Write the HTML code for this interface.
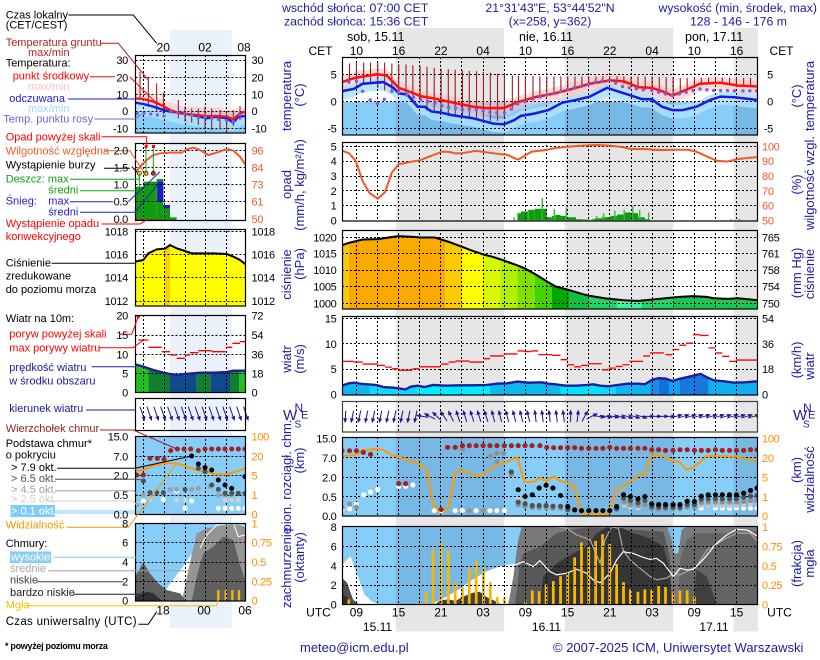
<!DOCTYPE html>
<html><head><meta charset="utf-8"><title>meteogram</title>
<style>
html,body{margin:0;padding:0;background:#fff;width:820px;height:660px;overflow:hidden}
svg{display:block}
text{font-family:"Liberation Sans",Arial,sans-serif}
</style></head><body>
<svg xmlns="http://www.w3.org/2000/svg" width="820" height="660" viewBox="0 0 820 660">
<defs>
<clipPath id="mp">
<rect x="342" y="57" width="416" height="78"/>
<rect x="342" y="142.5" width="416" height="78.5"/>
<rect x="342" y="230.5" width="416" height="78.5"/>
<rect x="342" y="316.5" width="416" height="78.5"/>
<rect x="342" y="401.5" width="416" height="30.5"/>
<rect x="342" y="437.5" width="416" height="78.5"/>
<rect x="342" y="526.5" width="416" height="78"/>
</clipPath>
<clipPath id="mc">
<rect x="135.5" y="55.5" width="110" height="77.5"/>
<rect x="135.5" y="143.5" width="110" height="77"/>
<rect x="135.5" y="229.5" width="110" height="76.5"/>
<rect x="135.5" y="315.5" width="110" height="77"/>
<rect x="135.5" y="398.5" width="110" height="32"/>
<rect x="135.5" y="436.5" width="110" height="78"/>
<rect x="135.5" y="523.5" width="110" height="77.5"/>
</clipPath>
<marker id="ah" markerUnits="userSpaceOnUse" markerWidth="16" markerHeight="14" refX="11" refY="7" orient="auto" viewBox="0 0 14 14"><path d="M0,1 L14,7 L0,13 z" fill="#1a1a9a"/></marker>
<clipPath id="pc"><polygon points="180,345 200,338 240,328 284,327 330,320 345,318 380,320 410,322 450,322 490,335 530,350 560,362 590,372 620,380 650,390 690,405 710,413 740,430 780,455 800,467 840,478 880,490 900,495 950,503 1000,508 1040,510 1080,506 1120,502 1160,498 1200,496 1240,498 1260,502 1300,504 1330,502 1360,505 1388,508 1388,536 180,536"/></clipPath>
<clipPath id="wc"><polygon points="180,242 200,235 215,233 240,237 280,240 300,246 330,248 365,253 380,245 400,242 420,246 445,240 480,242 520,241 560,241 600,240 630,236 660,235 690,230 720,233 760,232 780,236 800,238 830,242 860,242 890,240 910,238 930,242 955,244 980,240 1010,236 1040,236 1060,238 1080,225 1100,220 1120,221 1140,228 1160,222 1190,215 1210,210 1222,207 1240,217 1260,226 1290,229 1320,233 1350,232 1388,229 1388,271 180,271"/></clipPath>
<clipPath id="mwc"><polygon points="405,433 430,440 460,450 490,458 510,462 530,465 555,462 580,460 600,458 640,458 680,456 700,452 737,452 737,518 405,518"/></clipPath>
</defs>
<rect width="820" height="660" fill="#fff"/>

<!-- night columns main -->
<g fill="#e6e6e6">
<rect x="395.8" y="28" width="108.4" height="603.4"/>
<rect x="564.8" y="28" width="108.4" height="603.4"/>
<rect x="733.7" y="28" width="24.1" height="603.4"/>
</g>
<!-- mini night band -->
<rect x="170" y="30" width="61.7" height="598" fill="#eaf1fb"/>

<!-- ================= MAIN PANEL FILLS ================= -->
<g clip-path="url(#mp)">
<g transform="translate(280,-0.6) scale(0.3442,0.3375)">
<rect x="180" y="304" width="1208" height="102" fill="#86cdf8"/>
<g fill="#78b8e4"><rect x="336.4" y="304" width="315" height="102"/><rect x="827.4" y="304" width="315" height="102"/><rect x="1318.1" y="304" width="70" height="102"/></g>
<polygon fill="#ffc4c4" fill-opacity="0.6" points="180,227 220,214 280,204 310,207 345,244 380,257 410,269 440,274 500,287 560,300 600,304 650,304 690,287 740,272 800,260 850,247 900,232 960,222 1000,225 1040,242 1080,244 1110,254 1140,267 1180,250 1220,232 1280,229 1330,237 1388,240 1388,280 1330,277 1280,269 1220,272 1180,290 1140,307 1110,294 1080,284 1040,282 1000,265 960,262 900,272 850,287 800,300 740,312 690,327 650,344 600,344 560,340 500,327 440,314 410,309 380,297 345,284 310,247 280,244 220,254 180,267"/>
<polygon fill="#aee2ff" fill-opacity="0.85" points="180,257 215,250 240,235 300,230 330,247 345,263 370,267 400,303 420,303 440,317 470,321 500,328 560,337 620,353 650,355 680,343 700,330 740,323 780,313 820,291 860,283 900,273 950,247 980,257 1020,270 1050,280 1080,281 1110,303 1140,313 1170,313 1210,303 1250,283 1280,273 1320,275 1388,283 1388,323 1320,315 1280,313 1250,323 1210,343 1170,353 1140,353 1110,343 1080,321 1050,320 1020,310 980,297 950,287 900,313 860,323 820,331 780,353 740,363 700,370 680,383 650,395 620,393 560,377 500,368 470,361 440,357 420,343 400,343 370,307 345,303 330,287 300,270 240,275 215,290 180,297"/>
</g>
<g transform="translate(280,128.8) scale(0.3442,0.3375)">
<g fill="#109c10">
<rect x="690" y="250" width="10" height="21"/><rect x="700" y="245" width="20" height="26"/><rect x="720" y="240" width="20" height="31"/><rect x="740" y="237" width="35" height="34"/><rect x="775" y="262" width="15" height="9"/><rect x="790" y="258" width="10" height="13"/><rect x="800" y="255" width="15" height="16"/><rect x="815" y="258" width="15" height="13"/><rect x="830" y="262" width="30" height="9"/><rect x="860" y="268" width="20" height="3"/><rect x="880" y="269" width="20" height="2"/><rect x="905" y="268" width="10" height="3"/><rect x="915" y="265" width="20" height="6"/><rect x="935" y="262" width="25" height="9"/><rect x="960" y="258" width="20" height="13"/><rect x="980" y="254" width="20" height="17"/><rect x="1000" y="248" width="20" height="23"/><rect x="1020" y="250" width="20" height="21"/><rect x="1040" y="262" width="20" height="9"/><rect x="1060" y="268" width="15" height="3"/>
</g>
<path stroke="#30c030" stroke-width="4" fill="none" d="M680 271V262M722 271V242M762 271V205M797 271V237M832 271V233M920 271V258M940 271V250M973 271V242M1000 271V240M1025 271V228M1045 271V240M1071 271V248M1310 271V268M1335 271V266"/>
<g clip-path="url(#pc)">
<rect x="180" y="300" width="20" height="236" fill="#f8c800"/>
<rect x="200" y="300" width="280" height="236" fill="#f8aa00"/>
<rect x="480" y="300" width="50" height="236" fill="#f8cc00"/>
<rect x="530" y="300" width="60" height="236" fill="#ffff00"/>
<rect x="590" y="300" width="50" height="236" fill="#d8f800"/>
<rect x="640" y="300" width="50" height="236" fill="#b0f000"/>
<rect x="690" y="300" width="50" height="236" fill="#80e000"/>
<rect x="740" y="300" width="50" height="236" fill="#40d400"/>
<rect x="790" y="300" width="50" height="236" fill="#00a800"/>
<rect x="840" y="300" width="60" height="236" fill="#10c040"/>
<rect x="900" y="300" width="80" height="236" fill="#20d468"/>
<rect x="980" y="300" width="70" height="236" fill="#40f0a0"/>
<rect x="1050" y="300" width="90" height="236" fill="#20d468"/>
<rect x="1140" y="300" width="248" height="236" fill="#18c850"/>
</g>
</g>
<g transform="translate(280,304) scale(0.3442,0.3375)">
<g clip-path="url(#wc)">
<rect x="180" y="200" width="80" height="71" fill="#10b4f0"/>
<rect x="260" y="200" width="140" height="71" fill="#10d8ff"/>
<rect x="400" y="200" width="210" height="71" fill="#00ecff"/>
<rect x="610" y="200" width="205" height="71" fill="#10b8f0"/>
<rect x="815" y="200" width="100" height="71" fill="#00e4ff"/>
<rect x="915" y="200" width="60" height="71" fill="#10d8ff"/>
<rect x="975" y="200" width="100" height="71" fill="#10b4f0"/>
<rect x="1075" y="200" width="25" height="71" fill="#1a8ce8"/>
<rect x="1100" y="200" width="30" height="71" fill="#1070e0"/>
<rect x="1130" y="200" width="30" height="71" fill="#10a0f0"/>
<rect x="1160" y="200" width="85" height="71" fill="#1878e0"/>
<rect x="1245" y="200" width="143" height="71" fill="#10b0f0"/>
</g>
</g>
<g transform="translate(280,424.84) scale(0.3442,0.3364)">
<rect x="180" y="37" width="1208" height="237" fill="#86cdf8"/>
<g fill="#78b8e4"><rect x="336.4" y="37" width="315" height="237"/><rect x="827.4" y="37" width="315" height="237"/><rect x="1318.1" y="37" width="70" height="237"/></g>
</g>
<g transform="translate(280,521.7) scale(0.3442,0.3303)">
<rect x="180" y="14" width="1208" height="240" fill="#86cdf8"/>
<g fill="#78b8e4"><rect x="336.4" y="14" width="315" height="240"/><rect x="827.4" y="14" width="315" height="240"/><rect x="1318.1" y="14" width="70" height="240"/></g>
<polygon fill="#fff" points="180,252 180,130 205,105 245,220 265,240 290,252"/>
<polygon fill="#505050" points="180,252 180,170 195,185 212,235 230,252"/>
<polygon fill="#2e2e2e" points="180,252 180,215 200,235 210,252"/>
<polygon fill="#fff" points="430,252 470,235 520,205 560,175 600,150 640,135 680,128 700,128 700,252"/>
<polygon fill="#404040" points="450,252 465,238 490,235 510,240 530,228 560,215 580,212 600,228 625,240 645,252"/>
<polygon fill="#7a7a7a" points="663,252 678,166 692,55 702,16 1123,14 1138,55 1143,96 1157,96 1167,25 1182,14 1388,14 1388,252"/>
<polygon fill="#585858" points="683,252 697,126 707,96 755,76 804,35 852,23 901,17 1114,30 1133,106 1138,252"/>
<polygon fill="#646464" points="1157,252 1162,116 1182,55 1210,35 1288,35 1366,30 1388,30 1388,252"/>
<polygon fill="#363636" points="755,252 765,166 804,126 852,96 891,76 920,35 949,17 997,20 1026,35 1075,50 1114,76 1133,146 1138,252"/>
<polygon fill="#404040" points="1201,252 1210,146 1240,166 1269,252"/>
<polyline fill="none" stroke="#a8a8a8" stroke-width="3.5" points="804,15 833,20 862,40 901,55 930,126 944,55 964,15 983,20 997,86 1017,116 1075,166 1094,176 1123,171 1143,156 1162,161 1210,136 1240,86 1288,55 1327,35 1366,35 1388,60"/>
<polyline fill="none" stroke="#ffffff" stroke-width="3.5" points="683,131 707,121 736,136 755,118 784,151 804,161 833,156 862,144 891,156 910,176 930,185 959,156 978,116 997,91 1026,96 1055,108 1075,114 1094,111 1114,126 1143,166 1162,141 1182,146 1201,144 1230,114 1269,65 1298,40 1327,23 1356,25 1366,30 1388,45"/>
<path stroke="#f8b800" stroke-width="8" fill="none" d="M200 250V235M405 250V245M425 250V213M445 250V88M468 250V65M489 250V88M509 250V183M530 250V198M550 250V142M570 250V118M591 250V140M611 250V183M631 250V228M652 250V230M713 250V242M733 250V208M753 250V210M773 250V190M794 250V180M815 250V165M836 250V155M856 250V108M876 250V63M897 250V75M917 250V58M937 250V38M958 250V67M978 250V128M998 250V183M1018 250V205M1040 250V212M1060 250V205M1080 250V205M1100 250V195M1120 250V198M1142 250V215M1162 250V208M1183 250V208M1204 250V227"/>
</g>
</g>

<!-- ================= MINI PANEL FILLS ================= -->
<g clip-path="url(#mc)">
<g transform="scale(0.33333)">
<rect x="405" y="333" width="332" height="70" fill="#86cdf8"/>
<polygon fill="#ffc4c4" fill-opacity="0.6" points="405,262 450,280 490,300 540,318 600,322 660,322 700,330 737,318 737,345 700,365 660,360 600,355 540,350 490,328 450,315 405,310"/>
<polygon fill="#aee2ff" fill-opacity="0.85" points="405,298 460,310 510,325 560,332 620,340 680,345 700,355 737,338 737,370 700,392 640,385 560,375 510,365 460,352 405,342"/>
<g fill="#109c10"><rect x="405" y="560" width="25" height="102"/><rect x="430" y="545" width="40" height="117"/><rect x="470" y="537" width="20" height="125"/><rect x="490" y="615" width="20" height="47"/><rect x="510" y="652" width="20" height="10"/></g>
<g fill="#1a1ad0"><rect x="472" y="545" width="18" height="60"/><rect x="490" y="615" width="20" height="10"/></g>
</g>
<g transform="translate(0,220) scale(0.33333)">
<polygon fill="#ffff00" points="405,125 430,120 445,100 470,88 495,86 510,75 530,85 555,93 575,100 600,100 640,100 680,102 700,110 720,120 737,133 737,260 405,260"/>
<polygon fill="#f8d000" points="495,86 510,75 510,260 495,260"/>
<g clip-path="url(#mwc)">
<rect x="405" y="420" width="40" height="100" fill="#20c020"/>
<rect x="445" y="420" width="65" height="100" fill="#108030"/>
<rect x="510" y="420" width="80" height="100" fill="#104a8c"/>
<rect x="590" y="420" width="42" height="100" fill="#108030"/>
<rect x="632" y="420" width="58" height="100" fill="#104a8c"/>
<rect x="690" y="420" width="28" height="100" fill="#108030"/>
<rect x="718" y="420" width="19" height="100" fill="#20c020"/>
</g>
</g>
<g transform="translate(0,425) scale(0.33333)">
<rect x="405" y="35" width="332" height="235" fill="#86cdf8"/>
<rect x="405" y="295" width="332" height="235" fill="#86cdf8"/>
<polygon fill="#fff" points="470,530 500,490 530,450 560,410 590,365 610,340 640,320 737,300 737,530"/>
<polygon fill="#959595" points="545,530 560,460 575,390 590,325 620,310 660,302 700,298 737,305 737,530"/>
<polygon fill="#606060" points="405,530 405,455 430,412 450,445 475,475 500,495 540,505 560,530"/>
<polygon fill="#606060" points="575,530 590,455 610,385 640,365 670,335 700,345 720,420 737,470 737,530"/>
<polygon fill="#303030" points="405,530 405,515 440,500 460,505 490,530"/>
<polyline fill="none" stroke="#fff" stroke-width="3" points="600,370 620,330 650,300 700,295 715,335 737,330"/>
<path stroke="#f8b800" stroke-width="7" d="M655 528V495M677 528V495M697 528V495M717 528V495"/>
</g>
</g>

<!-- ================= GRIDS ================= -->
<g stroke="#000" stroke-width="1" stroke-dasharray="2,2" fill="none">
<path clip-path="url(#mp)" d="M356.5 57V605M377.5 57V605M398.5 57V605M419.5 57V605M440.5 57V605M461.5 57V605M483.5 57V605M504.5 57V605M525.5 57V605M546.5 57V605M567.5 57V605M588.5 57V605M609.5 57V605M631.5 57V605M652.5 57V605M673.5 57V605M694.5 57V605M715.5 57V605M736.5 57V605"/>
<path d="M342 74.5H758M342 101.5H758M342 128.5H758M342 146.5H758M342 161.5H758M342 176.5H758M342 190.5H758M342 205.5H758M342 237.5H758M342 253.5H758M342 270.5H758M342 286.5H758M342 303.5H758M342 318.5H758M342 343.5H758M342 369.5H758M342 457.5H758M342 477.5H758M342 496.5H758M342 546.5H758M342 566.5H758M342 585.5H758"/>
<path clip-path="url(#mc)" d="M143.5 55V601M164.5 55V601M185.5 55V601M205.5 55V601M226.5 55V601"/>
<path d="M135.5 60.5H245.5M135.5 77.5H245.5M135.5 94.5H245.5M135.5 111.5H245.5M135.5 128.5H245.5M135.5 150.5H245.5M135.5 167.5H245.5M135.5 184.5H245.5M135.5 201.5H245.5M135.5 231.5H245.5M135.5 254.5H245.5M135.5 277.5H245.5M135.5 301.5H245.5M135.5 335.5H245.5M135.5 354.5H245.5M135.5 373.5H245.5M135.5 456.5H245.5M135.5 475.5H245.5M135.5 495.5H245.5M135.5 542.5H245.5M135.5 562.5H245.5M135.5 581.5H245.5"/>
</g>

<!-- ================= MAIN LINES ================= -->
<g clip-path="url(#mp)" fill="none">
<g transform="translate(280,-0.6) scale(0.3442,0.3375)">
<path stroke="#a81818" stroke-width="3.2" d="M202 190V250M222 188V250M243 187V248M263 187V250M284 187V262M304 187V270M325 190V275M345 192V280M366 193V285M386 195V295M407 197V300M427 200V330M448 203V335M468 205V340M489 207V345M509 208V348M530 210V350M550 212V352M571 213V355M591 215V358M611 217V360M632 220V360M652 222V350M675 225V322M693 227V310M713 227V300M735 227V290M755 228V290M775 228V285M796 228V282M816 228V275M836 228V270M857 228V268M877 228V262M897 228V255M918 228V250M938 228V245M958 228V240M979 228V245M999 228V250M1020 228V255M1040 228V265M1061 228V268M1081 228V270M1102 230V275M1122 230V280M1142 230V285M1163 232V278M1183 232V270M1204 232V262M1224 232V255M1245 232V252M1265 232V250M1285 232V250M1306 232V255M1326 232V258M1347 232V258M1367 232V258"/>
<polyline stroke="#1a1ae0" stroke-width="7.5" points="180,272 215,265 240,250 300,245 330,262 345,278 370,282 400,318 420,318 440,332 470,336 500,343 560,352 620,368 650,370 680,358 700,345 740,338 780,328 820,306 860,298 900,288 950,262 980,272 1020,285 1050,295 1080,296 1110,318 1140,328 1170,328 1210,318 1250,298 1280,288 1320,290 1388,298"/>
<polyline stroke="#ff1010" stroke-width="7.5" points="180,245 220,232 280,222 310,225 345,262 380,275 410,287 440,292 500,305 560,318 600,322 650,322 690,305 740,290 800,278 850,265 900,250 960,240 1000,243 1040,260 1080,262 1110,272 1140,285 1180,268 1220,250 1280,247 1330,255 1388,258"/>
<path stroke="#7662e6" stroke-width="10" stroke-linecap="round" d="M200 245h.1M222 242h.1M240 272h.1M262 298h.1M283 308h.1M303 296h.1M325 272h.1M345 275h.1M368 283h.1M388 290h.1M409 297h.1M430 302h.1M450 308h.1M470 315h.1M490 320h.1M510 322h.1M530 325h.1M550 325h.1M570 327h.1M590 330h.1M610 334h.1M630 336h.1M652 336h.1M672 325h.1M690 310h.1M712 303h.1M735 295h.1M755 289h.1M775 283h.1M795 279h.1M815 273h.1M835 267h.1M855 262h.1M875 258h.1M895 252h.1M915 246h.1M935 242h.1M955 240h.1M975 248h.1M995 258h.1M1015 262h.1M1035 265h.1M1055 268h.1M1080 270h.1M1100 275h.1M1120 280h.1M1140 285h.1M1160 280h.1M1180 275h.1M1200 270h.1M1220 265h.1M1240 268h.1M1260 270h.1M1280 270h.1M1300 270h.1M1320 271h.1M1345 271h.1M1365 271h.1M1385 271h.1"/>
</g>
<g transform="translate(280,128.8) scale(0.3442,0.3375)">
<polyline stroke="#f05a28" stroke-width="6" points="180,65 200,72 220,95 240,155 260,190 284,207 305,188 325,130 345,105 370,100 407,93 440,80 470,68 490,68 510,73 530,72 570,65 600,70 640,75 660,77 690,91 700,87 730,68 770,63 800,57 850,52 890,49 920,48 958,50 1000,55 1020,60 1060,60 1100,63 1150,62 1185,62 1210,68 1240,82 1270,95 1300,97 1330,90 1360,86 1388,84"/>
<polyline stroke="#000" stroke-width="6" points="180,345 200,338 240,328 284,327 330,320 345,318 380,320 410,322 450,322 490,335 530,350 560,362 590,372 620,380 650,390 690,405 710,413 740,430 780,455 800,467 840,478 880,490 900,495 950,503 1000,508 1040,510 1080,506 1120,502 1160,498 1200,496 1240,498 1260,502 1300,504 1330,502 1360,505 1388,508"/>
</g>
<g transform="translate(280,304) scale(0.3442,0.3375)">
<polyline stroke="#1c1c9c" stroke-width="7" points="180,242 200,235 215,233 240,237 280,240 300,246 330,248 365,253 380,245 400,242 420,246 445,240 480,242 520,241 560,241 600,240 630,236 660,235 690,230 720,233 760,232 780,236 800,238 830,242 860,242 890,240 910,238 930,242 955,244 980,240 1010,236 1040,236 1060,238 1080,225 1100,220 1120,221 1140,228 1160,222 1190,215 1210,210 1222,207 1240,217 1260,226 1290,229 1320,233 1350,232 1388,229"/>
<path stroke="#ff0000" stroke-width="4" d="M180 170H215M215 172H240M240 178H285M285 182H305M305 187H325M325 192H345M345 196H385M385 192H405M405 186H465M468 178H490M490 172H510M510 169H550M550 172H590M590 162H610M610 154H650M650 148H690M690 139H710M710 141H730M730 139H750M750 150H790M790 152H815M815 165H835M835 180H855M855 186H875M875 182H895M895 177H935M935 195H955M955 190H975M975 185H995M995 180H1015M1015 170H1055M1055 154H1075M1075 145H1115M1120 150H1140M1140 135H1160M1160 122H1180M1180 116H1200M1200 91H1220M1220 93H1245M1245 130H1265M1265 145H1285M1285 155H1305M1305 170H1325M1325 166H1388"/>
<g stroke="#1a1a9a" stroke-width="3" marker-end="url(#ah)">
<path d="M191 316l-2 34"/><path d="M214 316l-7 34"/><path d="M234.5 316l-7 34"/><path d="M255 316l-7 34"/><path d="M275.3 316l-7 34"/><path d="M295.8 316l-7 34"/><path d="M316.2 316l-7 34"/><path d="M336.7 316l-7 34"/><path d="M357.1 316l-7 34"/><path d="M377.6 316l-7 34"/><path d="M398 316l-7 34"/>
<path d="M432 336l-34 -6"/><path d="M450.4 341l-30 -16"/><path d="M467.9 345l-24 -24"/><path d="M485.3 347l-18 -28"/><path d="M503.8 348l-14 -30"/>
<path d="M522.2 349l-10 -32"/><path d="M542.7 349l-10 -32"/><path d="M563.1 349l-10 -32"/><path d="M583.6 349l-10 -32"/><path d="M604 349l-10 -32"/>
<path d="M623.5 349.5l-8 -33"/><path d="M643.9 349.5l-8 -33"/><path d="M664.4 349.5l-8 -33"/><path d="M684.8 349.5l-8 -33"/><path d="M705.3 349.5l-8 -33"/><path d="M725.7 349.5l-8 -33"/>
<path d="M744.2 350l-4 -34"/><path d="M764.6 350l-4 -34"/><path d="M785.1 350l-4 -34"/><path d="M805.5 350l-4 -34"/><path d="M826 350l-4 -34"/>
<path d="M844.4 350l0 -34"/><path d="M862.9 350l4 -34"/><path d="M877.3 348l16 -30"/><path d="M890.8 341l30 -16"/>
<path d="M909.2 330l34 6"/><path d="M929.7 330l34 6"/><path d="M950.1 330l34 6"/>
<path d="M971.1 328l33 10"/><path d="M991.5 328l33 10"/><path d="M1012 328l33 10"/><path d="M1032.4 328l33 10"/>
<path d="M1051.9 333l35 0"/><path d="M1072.3 333l35 0"/><path d="M1092.8 333l35 0"/><path d="M1113.2 333l35 0"/>
<path d="M1135.2 338l32 -10"/><path d="M1155.6 338l32 -10"/><path d="M1176.1 338l32 -10"/><path d="M1196.5 338l32 -10"/><path d="M1217 338l32 -10"/><path d="M1237.4 338l32 -10"/><path d="M1257.9 338l32 -10"/><path d="M1278.3 338l32 -10"/><path d="M1298.8 338l32 -10"/><path d="M1319.2 338l32 -10"/><path d="M1339.7 338l32 -10"/><path d="M1360.1 338l32 -10"/>
</g>
</g>
<g transform="translate(280,424.84) scale(0.3442,0.3364)">
<polyline stroke="#ff9900" stroke-width="6" points="180,92 200,91 222,88 240,75 285,72 300,75 325,90 345,96 365,103 385,110 407,118 427,135 445,240 468,262 490,245 509,140 530,135 570,152 590,148 630,118 652,112 690,97 710,170 735,170 755,158 775,168 795,153 815,168 836,172 856,185 876,262 897,262 918,264 938,266 955,262 978,195 1000,180 1020,168 1040,150 1060,147 1080,88 1100,92 1120,95 1142,108 1160,110 1180,132 1200,128 1240,93 1265,92 1326,95 1365,104 1388,104"/>
<g stroke-linecap="round" stroke-width="15">
<path stroke="#ffffff" d="M180 252h.1M202 250h.1M222 237h.1M243 208h.1M263 200h.1M284 192h.1M345 183h.1M365 183h.1M386 179h.1M448 255h.1M468 255h.1M509 255h.1M530 255h.1M570 255h.1M610 255h.1M630 255h.1M652 255h.1M1224 248h.1M1265 248h.1M1285 248h.1M1306 248h.1M1326 248h.1M1347 248h.1M1367 248h.1M1386 248h.1"/>
<path stroke="#c8c8c8" d="M692 222h.1M1000 240h.1M1018 246h.1M1040 248h.1M1224 240h.1M1244 240h.1M1265 240h.1M1285 240h.1M1306 240h.1M1326 240h.1M1347 238h.1M1367 236h.1M1386 236h.1"/>
<path stroke="#909090" d="M180 245h.1M202 235h.1M222 245h.1M530 72h.1M612 93h.1M630 85h.1M650 85h.1M630 110h.1M672 148h.1M692 238h.1M712 243h.1M733 246h.1M753 246h.1M773 246h.1M793 248h.1M815 248h.1M550 255h.1M590 255h.1M1000 230h.1M1018 238h.1M1040 240h.1M1060 238h.1M1080 250h.1M1100 250h.1M1120 250h.1M1142 250h.1M1162 250h.1M1183 245h.1M1204 245h.1M1224 232h.1M1244 230h.1M1265 230h.1M1285 230h.1M1306 230h.1M1326 230h.1M1347 228h.1M1367 225h.1M1386 225h.1"/>
<path stroke="#505050" d="M672 140h.1M692 230h.1M712 235h.1M733 240h.1M753 240h.1M773 240h.1M793 242h.1M815 242h.1M836 252h.1M978 250h.1M998 218h.1M1018 225h.1M1040 232h.1M1060 225h.1M1080 243h.1M1100 245h.1M1120 245h.1M1142 245h.1M1162 245h.1M1183 237h.1M1204 237h.1M1224 222h.1M1244 220h.1M1265 220h.1M1285 220h.1M1306 220h.1M1326 220h.1M1347 215h.1M1367 212h.1M1386 210h.1"/>
<path stroke="#000000" d="M692 193h.1M712 213h.1M733 208h.1M753 188h.1M773 180h.1M793 188h.1M815 210h.1M836 243h.1M856 253h.1M876 255h.1M897 255h.1M918 255h.1M938 255h.1M958 255h.1M978 243h.1M998 208h.1M1018 213h.1M1040 220h.1M1060 213h.1M1080 235h.1M1100 237h.1M1120 237h.1M1142 237h.1M1162 237h.1M1183 227h.1M1204 228h.1M1224 212h.1M1244 208h.1M1265 208h.1M1285 208h.1M1306 208h.1M1326 208h.1M1347 203h.1M1367 195h.1M1386 188h.1"/>
<path stroke="#a52020" d="M180 77h.1M202 77h.1M222 77h.1M242 82h.1M263 88h.1M345 175h.1M365 175h.1M468 252h.1M487 67h.1M509 67h.1M530 62h.1M550 62h.1M570 62h.1M590 62h.1M610 62h.1M630 62h.1M652 62h.1M672 62h.1M692 62h.1M712 62h.1M732 62h.1M755 62h.1M775 67h.1M795 68h.1M815 68h.1M836 68h.1M856 68h.1M876 70h.1M897 70h.1M918 70h.1M938 70h.1M958 67h.1M978 70h.1M998 70h.1M1018 70h.1M1040 70h.1M1060 70h.1M1080 74h.1M1100 74h.1M1120 76h.1M1142 76h.1M1162 74h.1M1183 74h.1M1204 76h.1M1224 76h.1M1244 76h.1M1265 74h.1M1285 76h.1M1306 76h.1M1326 76h.1M1347 76h.1M1367 74h.1M1386 74h.1"/>
</g>
</g>
</g>

<!-- ================= MINI LINES ================= -->
<g fill="none">
<g clip-path="url(#mc)">
<g transform="scale(0.33333)">
<path stroke="#a81818" stroke-width="3.2" d="M420 215V300M445 235V318M470 250V335M490 278V342M535 300V355M555 320V365M575 325V368M595 325V375M615 320V382M635 325V390M660 330V388M680 340V398M700 330V378M720 318V360"/>
<polyline stroke="#1a1ae0" stroke-width="7" points="405,308 430,312 460,320 490,330 510,335 540,338 560,342 590,348 620,355 650,350 680,355 700,368 715,350 737,348"/>
<polyline stroke="#ff1010" stroke-width="7" points="405,295 430,297 460,305 490,318 510,330 540,340 560,342 590,345 620,348 650,348 680,350 700,358 720,340 737,335"/>
<path stroke="#7662e6" stroke-width="10" stroke-linecap="round" d="M412 340h.1M432 340h.1M452 342h.1M472 345h.1M492 348h.1M512 335h.1M532 338h.1M555 340h.1M575 345h.1M595 353h.1M615 352h.1M635 355h.1M655 358h.1M680 362h.1M700 365h.1M720 345h.1"/>
<polyline stroke="#f05a28" stroke-width="6" points="405,520 420,500 440,480 460,465 480,460 510,458 545,458 560,448 580,443 600,450 625,465 650,458 680,447 700,452 720,470 737,495"/>
<path stroke="#10a010" stroke-width="3" d="M418 515V560M438 440V515M460 440V515"/>
<path stroke="#ff0000" stroke-width="4" stroke-dasharray="8,6" d="M408 659H492"/>
<rect x="434" y="435" width="9" height="9" fill="#ff0000"/><rect x="456" y="435" width="9" height="9" fill="#ff0000"/>
<circle cx="418" cy="520" r="6" fill="#ffe000" stroke="#000" stroke-width="2"/>
<circle cx="438" cy="520" r="6" fill="#f8a000" stroke="#000" stroke-width="2"/>
<circle cx="460" cy="520" r="6" fill="#e02020" stroke="#000" stroke-width="2"/>
</g>
<g transform="translate(0,220) scale(0.33333)">
<polyline stroke="#000" stroke-width="6" points="405,125 430,120 445,100 470,88 495,86 510,75 530,85 555,93 575,100 600,100 640,100 680,102 700,110 720,120 737,133"/>
<polyline stroke="#1c1c9c" stroke-width="7" points="405,433 430,440 460,450 490,458 510,462 530,465 555,462 580,460 600,458 640,458 680,456 700,452 737,452"/>
<path stroke="#ff0000" stroke-width="4" d="M415 360H445M445 382H485M485 395H510M510 405H530M530 415H555M555 405H570M570 398H595M595 392H635M635 395H677M677 382H697M697 370H720M720 365H737"/>
<circle cx="415" cy="290" r="5" fill="#ff0000"/>
</g>
<g transform="translate(0,425) scale(0.33333)">
<polyline stroke="#ff9900" stroke-width="6" points="405,137 430,135 460,122 490,115 530,115 560,125 590,135 620,140 650,148 680,148 700,142 737,130"/>
<g stroke-linecap="round" stroke-width="15">
<path stroke="#fff" d="M430 228h.1M490 223h.1M530 198h.1M555 250h.1M575 228h.1M655 250h.1M675 250h.1M695 250h.1M715 250h.1M735 250h.1"/>
<path stroke="#d0d0d0" d="M410 235h.1M450 223h.1M530 225h.1M555 225h.1M675 225h.1M695 225h.1M715 225h.1"/>
<path stroke="#a0a0a0" d="M410 240h.1M430 210h.1M510 193h.1M530 193h.1M575 193h.1M595 190h.1M630 185h.1M655 210h.1M675 210h.1M695 210h.1"/>
<path stroke="#505050" d="M430 168h.1M450 203h.1M470 203h.1M490 203h.1M555 193h.1M595 130h.1M615 140h.1M635 180h.1M655 193h.1M675 205h.1M695 205h.1M715 205h.1M735 205h.1"/>
<path stroke="#000" d="M575 93h.1M595 117h.1M615 128h.1M635 135h.1M655 165h.1M675 180h.1M695 190h.1M735 155h.1"/>
<path stroke="#a52020" d="M410 150h.1M430 150h.1M450 100h.1M472 100h.1M492 103h.1M512 77h.1M532 72h.1M552 72h.1M572 72h.1M595 77h.1M615 72h.1M635 72h.1M655 72h.1M675 72h.1M695 72h.1M715 72h.1M735 72h.1"/>
</g>
</g>
</g>
<g transform="translate(0,220) scale(0.33333)" stroke="#1a1a9a" stroke-width="3" marker-end="url(#ah)">
<path d="M420 560l14 40"/><path d="M440.7 560l14 40"/><path d="M461.4 560l14 40"/><path d="M482.1 560l14 40"/><path d="M502.8 560l14 40"/><path d="M523.5 560l14 40"/><path d="M544.2 560l14 40"/><path d="M564.9 560l14 40"/><path d="M585.6 560l14 40"/><path d="M606.3 560l14 40"/><path d="M627 560l14 40"/><path d="M647.7 560l14 40"/><path d="M668.4 560l14 40"/><path d="M689.1 560l14 40"/><path d="M709.8 560l14 40"/><path d="M730.5 560l14 40"/>
</g>
</g>

<!-- ================= BORDERS ================= -->
<g fill="none" stroke="#000" stroke-width="1.2">
<rect x="342.5" y="57.5" width="415" height="77.5"/>
<rect x="342.5" y="142.5" width="415" height="78.5"/>
<rect x="342.5" y="230.5" width="415" height="78.5"/>
<rect x="342.5" y="316.5" width="415" height="78.5"/>
<rect x="342.5" y="401.5" width="415" height="30.5" stroke="#404040"/>
<rect x="342.5" y="437.5" width="415" height="78.5"/>
<rect x="342.5" y="526.5" width="415" height="78"/>
<rect x="135.5" y="55.5" width="110" height="77.5"/>
<rect x="135.5" y="143.5" width="110" height="77"/>
<rect x="135.5" y="229.5" width="110" height="76.5"/>
<rect x="135.5" y="315.5" width="110" height="77"/>
<rect x="135.5" y="398.5" width="110" height="32"/>
<rect x="135.5" y="436.5" width="110" height="78"/>
<rect x="135.5" y="523.5" width="110" height="77.5"/>
</g>

<!-- ================= LEGEND CONNECTORS ================= -->
<g fill="none" stroke-width="1">
<path stroke="#000" d="M68.3 15H133.3L156.7 43.3"/>
<path stroke="#b22222" d="M100 43.3H118.3L148.3 80"/>
<path stroke="#ff0000" d="M90 76.7H115M130 77L156.7 103.3"/>
<path stroke="#1a1ae0" d="M68.3 99H135"/>
<path stroke="#7060e0" d="M94.3 119H135L141.7 114"/>
<path stroke="#ff0000" d="M101.7 136.7H146.7V146"/>
<path stroke="#f05a28" d="M104 150.7H130L143.3 171.7"/>
<path stroke="#000" d="M104 168.3H130M131.7 166.7L136.7 171.7"/>
<path stroke="#10a010" d="M70 179.3H139.3V173.3M80 190.7H140L146.7 183.3"/>
<path stroke="#2020d0" d="M70 201.7H113.3M128.3 201.7L160 171.7M80 212.3H135L160 181.7"/>
<path stroke="#ff0000" d="M101.7 224H140L146.7 220"/>
<path stroke="#000" d="M51.7 263.3H135"/>
<path stroke="#ff0000" d="M120 334.3H131.7L138.3 316.7M98.3 347.7H133.3L143.3 340"/>
<path stroke="#1a1a9a" d="M91.7 366.7H135M86 410H135"/>
<path stroke="#a02020" d="M100 430H133.3L176.7 449"/>
<path stroke="#000" d="M57.3 468.3H135L191.7 456"/>
<path stroke="#505050" d="M55 479.3H135L143.3 480"/>
<path stroke="#a0a0a0" d="M55 490.7H133.3L138.3 495"/>
<path stroke="#d0d0d0" d="M46.7 501H133.3L136.7 505"/>
<path stroke="#80ccf8" d="M55 511H135M55 513H135"/>
<path stroke="#f89800" d="M66.7 527.3H128.3L176.7 463.3"/>
<path stroke="#80ccf8" d="M53.3 557.3H186.7"/>
<path stroke="#a0a0a0" d="M48.3 570.7H193.3"/>
<path stroke="#404040" d="M36.7 581.7H123.3"/>
<path stroke="#202020" d="M73.3 594.3H146.7"/>
<path stroke="#f8c000" d="M26.7 605.7H216.7L218.3 598.3"/>
<path stroke="#000" d="M138.3 624.3H148.3L156.7 611.7"/>
</g>

<!-- ================= TEXT ================= -->
<g font-size="12.3" fill="#1c1ca6">
<text x="282" y="12">wschód słońca: 07:00 CET</text>
<text x="284" y="25.5">zachód słońca: 15:36 CET</text>
<text x="550" y="12" text-anchor="middle">21°31'43"E, 53°44'52"N</text>
<text x="550" y="25.5" text-anchor="middle">(x=258,  y=362)</text>
<text x="817" y="12" text-anchor="end">wysokość (min, środek, max)</text>
<text x="738.5" y="25.5" text-anchor="middle">128 - 146 - 176 m</text>
</g>
<g font-size="12.5" fill="#000">
<text x="347" y="41">sob, 15.11</text>
<text x="519" y="41">nie, 16.11</text>
<text x="685" y="41">pon, 17.11</text>
</g>
<g font-size="12" fill="#000" text-anchor="middle">
<text x="320.5" y="55">CET</text><text x="781.5" y="55">CET</text>
<text x="356.4" y="55">10</text><text x="398.6" y="55">16</text><text x="440.9" y="55">22</text><text x="483.1" y="55">04</text><text x="525.4" y="55">10</text><text x="567.6" y="55">16</text><text x="609.8" y="55">22</text><text x="652.1" y="55">04</text><text x="694.3" y="55">10</text><text x="736.6" y="55">16</text>
<text x="318.5" y="616.5">UTC</text><text x="779.5" y="616.5">UTC</text>
<text x="356.4" y="616.5">09</text><text x="398.6" y="616.5">15</text><text x="440.9" y="616.5">21</text><text x="483.1" y="616.5">03</text><text x="525.4" y="616.5">09</text><text x="567.6" y="616.5">15</text><text x="609.8" y="616.5">21</text><text x="652.1" y="616.5">03</text><text x="694.3" y="616.5">09</text><text x="736.6" y="616.5">15</text>
<text x="377.5" y="631">15.11</text><text x="546.5" y="631">16.11</text><text x="714" y="631">17.11</text>
</g>
<g font-size="13" fill="#1c1ca6">
<text x="300" y="652">meteo@icm.edu.pl</text>
<text x="553" y="652">© 2007-2025 ICM, Uniwersytet Warszawski</text>
</g>

<g font-size="13" fill="#1c1caa" text-anchor="middle">
<text transform="translate(291,96) rotate(-90)">temperatura</text>
<text transform="translate(304,95) rotate(-90)">(°C)</text>
<text transform="translate(801,96) rotate(-90)">(°C)</text>
<text transform="translate(814,96) rotate(-90)">temperatura</text>
<text transform="translate(291,184.5) rotate(-90)">opad</text>
<text transform="translate(304,185) rotate(-90)">(mm/h, kg/m²/h)</text>
<text transform="translate(801,184.5) rotate(-90)">(%)</text>
<text transform="translate(814,183) rotate(-90)">wilgotność wzgl.</text>
<text transform="translate(291,274.5) rotate(-90)">ciśnienie</text>
<text transform="translate(304,264) rotate(-90)">(hPa)</text>
<text transform="translate(801,273) rotate(-90)">(mm Hg)</text>
<text transform="translate(814,274) rotate(-90)">ciśnienie</text>
<text transform="translate(291,359) rotate(-90)">wiatr</text>
<text transform="translate(304,359) rotate(-90)">(m/s)</text>
<text transform="translate(801,360) rotate(-90)">(km/h)</text>
<text transform="translate(814,366) rotate(-90)">wiatr</text>
<text transform="translate(291,475.5) rotate(-90)">pion. rozciągł. chm.</text>
<text transform="translate(304,460.5) rotate(-90)">(km)</text>
<text transform="translate(801,470) rotate(-90)">(km)</text>
<text transform="translate(814,479.5) rotate(-90)">widzialność</text>
<text transform="translate(291,567.5) rotate(-90)">zachmurzenie</text>
<text transform="translate(304,557.5) rotate(-90)">(oktanty)</text>
<text transform="translate(801,563.5) rotate(-90)">(frakcja)</text>
<text transform="translate(814,563.5) rotate(-90)">mgła</text>
</g>
<g fill="#1c1caa">
<text x="283" y="420" font-size="15">W</text><text x="294.5" y="412" font-size="12">N</text><text x="301" y="418.5" font-size="11">E</text><text x="294.5" y="427.5" font-size="10">S</text>
<text x="793" y="420" font-size="15">W</text><text x="803" y="412" font-size="12">N</text><text x="808" y="418.5" font-size="11">E</text><text x="803" y="427.5" font-size="10">S</text>
</g>

<g font-size="11" letter-spacing="-0.3" fill="#000" text-anchor="end">
<text x="336.5" y="78.5">5</text><text x="336.5" y="105.5">0</text><text x="336.5" y="132.5">-5</text>
<text x="336.5" y="150.4">5</text><text x="336.5" y="165.2">4</text><text x="336.5" y="180">3</text><text x="336.5" y="194.8">2</text><text x="336.5" y="209.6">1</text><text x="336.5" y="224.4">0</text>
<text x="336.5" y="241.5">1020</text><text x="336.5" y="257.7">1015</text><text x="336.5" y="273.9">1010</text><text x="336.5" y="290.4">1005</text><text x="336.5" y="307.3">1000</text>
<text x="336.5" y="322.5">15</text><text x="336.5" y="347.8">10</text><text x="336.5" y="373.1">5</text><text x="336.5" y="398.5">0</text>
<text x="336.5" y="442.3">15.0</text><text x="336.5" y="461.8">7.0</text><text x="336.5" y="481.7">2.0</text><text x="336.5" y="500.8">0.5</text><text x="336.5" y="520">0.0</text>
<text x="336.5" y="531">8</text><text x="336.5" y="550.5">6</text><text x="336.5" y="570">4</text><text x="336.5" y="589.1">2</text><text x="336.5" y="608.3">0</text>
<text x="773" y="78.5">5</text><text x="773" y="105.5">0</text><text x="773" y="132.5">-5</text>
</g>
<g font-size="11" letter-spacing="-0.3" fill="#000">
<g fill="#f05a28"><text x="762" y="150.4">100</text><text x="762" y="165.2">90</text><text x="762" y="180">80</text><text x="762" y="194.8">70</text><text x="762" y="209.6">60</text><text x="762" y="224.4">50</text></g>
<text x="762" y="241.5">765</text><text x="762" y="257.7">761</text><text x="762" y="273.9">758</text><text x="762" y="290.4">754</text><text x="762" y="307.3">750</text>
<text x="762" y="322.5">54</text><text x="762" y="347.8">36</text><text x="762" y="373.1">18</text><text x="762" y="398.5">0</text>
<g fill="#ff8c00"><text x="762" y="442.3">100</text><text x="762" y="461.8">20</text><text x="762" y="481.7">5</text><text x="762" y="500.8">1</text><text x="762" y="520">0</text>
<text x="762" y="531">1</text><text x="762" y="550.5">0.75</text><text x="762" y="570">0.5</text><text x="762" y="589.1">0.25</text><text x="762" y="608.3">0</text></g>
</g>

<g font-size="11" letter-spacing="-0.3" fill="#000" text-anchor="end">
<text x="128" y="64">30</text><text x="128" y="81.5">20</text><text x="128" y="98.5">10</text><text x="128" y="115">0</text><text x="128" y="132.5">-10</text>
<text x="128" y="154.5">2.0</text><text x="128" y="171.5">1.5</text><text x="128" y="188.5">1.0</text><text x="128" y="205.5">0.5</text><text x="128" y="223">0.0</text>
<text x="128" y="235.5">1018</text><text x="128" y="258.5">1016</text><text x="128" y="281.5">1014</text><text x="128" y="305">1012</text>
<text x="128" y="319.5">20</text><text x="128" y="339">15</text><text x="128" y="358.5">10</text><text x="128" y="377.5">5</text><text x="128" y="396.5">0</text>
<text x="128" y="440.5">15.0</text><text x="128" y="460.5">7.0</text><text x="128" y="479.5">2.0</text><text x="128" y="499">0.5</text><text x="128" y="518.5">0.0</text>
<text x="128" y="527.5">8</text><text x="128" y="546.5">6</text><text x="128" y="566">4</text><text x="128" y="585.5">2</text><text x="128" y="604.5">0</text>
</g>
<g font-size="11" letter-spacing="-0.3" fill="#000">
<text x="251.5" y="64">30</text><text x="251.5" y="81.5">20</text><text x="251.5" y="98.5">10</text><text x="251.5" y="115">0</text><text x="251.5" y="132.5">-10</text>
<g fill="#f05a28"><text x="251.5" y="154.5">96</text><text x="251.5" y="171.5">84</text><text x="251.5" y="188.5">73</text><text x="251.5" y="205.5">61</text><text x="251.5" y="223">50</text></g>
<text x="251.5" y="235.5">1018</text><text x="251.5" y="258.5">1016</text><text x="251.5" y="281.5">1014</text><text x="251.5" y="305">1012</text>
<text x="251.5" y="319.5">72</text><text x="251.5" y="339">54</text><text x="251.5" y="358.5">36</text><text x="251.5" y="377.5">18</text><text x="251.5" y="396.5">0</text>
<g fill="#ff8c00"><text x="251.5" y="440.5">100</text><text x="251.5" y="460.5">20</text><text x="251.5" y="479.5">5</text><text x="251.5" y="499">1</text><text x="251.5" y="518.5">0</text>
<text x="251.5" y="527.5">1</text><text x="251.5" y="546.5">0.75</text><text x="251.5" y="566">0.5</text><text x="251.5" y="585.5">0.25</text><text x="251.5" y="604.5">0</text></g>
</g>
<g font-size="12" fill="#000" text-anchor="middle">
<text x="163.3" y="51.7">20</text><text x="205" y="51.7">02</text><text x="244" y="51.7">08</text>
<text x="163" y="614.3">18</text><text x="204" y="614.3">00</text><text x="245" y="614.3">06</text>
</g>

<g font-size="11" fill="#000">
<text x="5.7" y="18.5">Czas lokalny</text>
<text x="5.7" y="28.5">(CET/CEST)</text>
<text x="5.7" y="46" fill="#b22222">Temperatura gruntu</text>
<text x="28" y="56" fill="#b22222">max/min</text>
<text x="5.7" y="66.5">Temperatura:</text>
<text x="12.7" y="79.5" fill="#ff0000">punkt środkowy</text>
<text x="28" y="90" fill="#ffc4c4">max/min</text>
<text x="9.3" y="102" fill="#1a1ae0">odczuwana</text>
<text x="28" y="112" fill="#a0d8f4">max/min</text>
<text x="3.3" y="122.5" fill="#7060e0">Temp. punktu rosy</text>
<text x="5.7" y="140.5" fill="#ff0000">Opad powyżej skali</text>
<text x="5.7" y="154.5" fill="#f05a28">Wilgotność względna</text>
<text x="5.7" y="168.5">Wystąpienie burzy</text>
<text x="5.7" y="182.5" fill="#10a010">Deszcz: max</text>
<text x="48.3" y="193.5" fill="#10a010">średni</text>
<text x="5.7" y="204.5" fill="#2020d0">Śnieg:</text>
<text x="48.3" y="204.5" fill="#2020d0">max</text>
<text x="48.3" y="215.5" fill="#2020d0">średni</text>
<text x="5.7" y="227" fill="#ff0000">Wystąpienie opadu</text>
<text x="5.7" y="240" fill="#ff0000">konwekcyjnego</text>
<text x="5.7" y="266.5">Ciśnienie</text>
<text x="5.7" y="279.5">zredukowane</text>
<text x="5.7" y="293">do poziomu morza</text>
<text x="5.7" y="322">Wiatr na 10m:</text>
<text x="9.3" y="337.5" fill="#ff0000">poryw powyżej skali</text>
<text x="9.3" y="351.5" fill="#ff0000">max porywy wiatru</text>
<text x="9.3" y="371" fill="#1a1a9a">prędkość wiatru</text>
<text x="9.3" y="384.5" fill="#1a1a9a">w środku obszaru</text>
<text x="9.3" y="412" fill="#1a1a9a">kierunek wiatru</text>
<text x="5.7" y="432" fill="#a02020">Wierzchołek chmur</text>
<text x="5.7" y="447">Podstawa chmur*</text>
<text x="5.7" y="458.5">o pokryciu</text>
<text x="11" y="471">&gt; 7.9 okt.</text>
<text x="11" y="482" fill="#505050">&gt; 6.5 okt.</text>
<text x="11" y="493" fill="#a0a0a0">&gt; 4.5 okt.</text>
<text x="11" y="502.5" fill="#d0d0d0">&gt; 2.5 okt.</text>
<rect x="10.5" y="505" width="44.5" height="12" fill="#80ccf8"/>
<text x="11" y="514.5" fill="#fff">&gt; 0.1 okt.</text>
<text x="5.7" y="528.5" fill="#f89800">Widzialność</text>
<text x="5.7" y="547">Chmury:</text>
<rect x="10" y="551.5" width="41" height="11.5" fill="#88ccf8"/>
<text x="11" y="560.5" fill="#fff">wysokie</text>
<text x="10" y="572" fill="#a8a8a8">średnie</text>
<text x="10" y="583.5" fill="#404040">niskie</text>
<text x="10" y="596" fill="#202020">bardzo niskie</text>
<text x="5.7" y="608.5" fill="#f8c000">Mgła</text>
<text x="5.7" y="625" font-size="11.5" letter-spacing="0.3">Czas uniwersalny (UTC)</text>
<text x="5" y="649" font-size="9" font-weight="bold" letter-spacing="-0.3">* powyżej poziomu morza</text>
</g>
</svg>
</body></html>
